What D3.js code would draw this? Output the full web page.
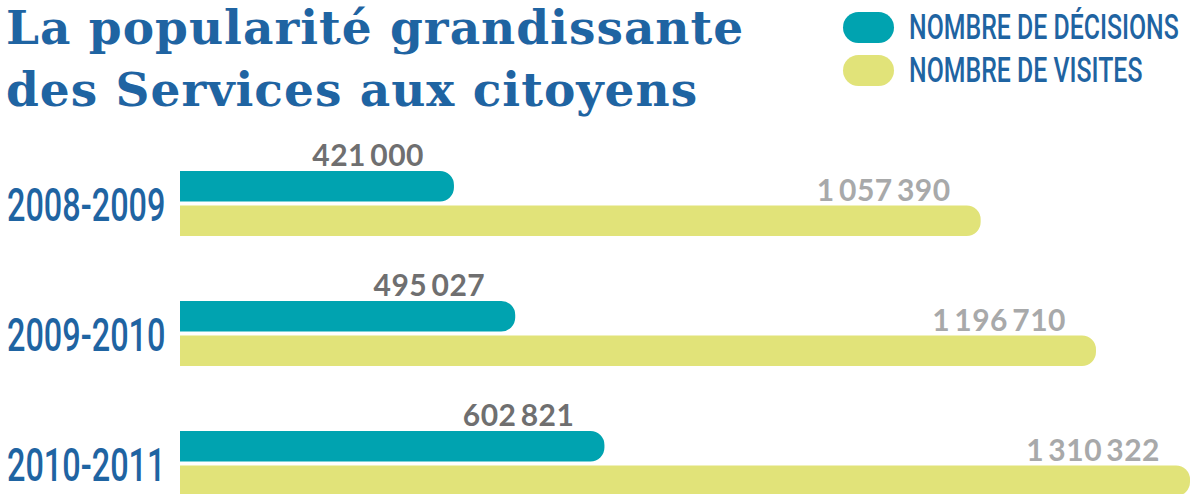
<!DOCTYPE html>
<html>
<head>
<meta charset="utf-8">
<script src="https://cdn.jsdelivr.net/npm/d3@7"></script>
<style>
  body { margin: 0; background: #fff; }
  svg { display: block; }
</style>
</head>
<body>
<script>
// data
let periods = ["2008-2009", "2009-2010", "2010-2011"];
let decisions = [421000, 495027, 602821];
let visites = [1057390, 1196710, 1310322];
let seriesNames = ["NOMBRE DE DÉCISIONS", "NOMBRE DE VISITES"];
let titleLines = ["La popularité grandissante", "des Services aux citoyens"];

let blue = "#1f64a2";
let colors = ["#00a3b0", "#e1e379"];
let labelColors = ["#6f6f70", "#a8a9aa"];

let W = 1193, H = 494;
let svg = d3.select("body").append("svg").attr("width", W).attr("height", H);

let fr = d3.formatLocale({decimal: ",", thousands: "\u2009", grouping: [3], currency: ["", " €"]});
let fmt = fr.format(",d");

// bars in the original are not strictly proportional; this linear fit follows them best
let x = d3.scaleLinear().domain([90000, 1310322]).range([180, 1190]);

let y = d3.scaleBand().domain(periods).range([171, 496]).paddingInner(0.5).paddingOuter(0);
let ySub = d3.scaleBand().domain([0, 1]).range([0, y.bandwidth()]).paddingInner(0.116);

let rows = periods.map((p, i) => ({period: p, vals: [decisions[i], visites[i]]}));

function barPath(x0, x1, y0, h) {
  let r = Math.min(14, h / 2);
  return `M${x0},${y0}H${x1 - r}A${r},${r} 0 0 1 ${x1},${y0 + r}V${y0 + h - r}A${r},${r} 0 0 1 ${x1 - r},${y0 + h}H${x0}Z`;
}

let g = svg.selectAll("g.row")
  .data(rows)
  .enter().append("g")
    .attr("class", "row")
    .attr("transform", d => `translate(0,${y(d.period)})`);

g.selectAll("path")
  .data(d => d.vals)
  .enter().append("path")
    .attr("d", (v, j) => barPath(x.range()[0], x(v), ySub(j), ySub.bandwidth()))
    .attr("fill", (v, j) => colors[j]);

g.selectAll("text.val")
  .data(d => d.vals)
  .enter().append("text")
    .attr("class", "val")
    .attr("x", v => x(v) - 30)
    .attr("y", (v, j) => ySub(j) - 5)
    .attr("text-anchor", "end")
    .attr("font-family", "Lato, 'Open Sans', sans-serif")
    .attr("font-weight", "bold")
    .attr("font-size", 30)
    .attr("letter-spacing", 0.5)
    .attr("fill", (v, j) => labelColors[j])
    .text(v => fmt(v));

// period labels, condensed look
g.append("text")
  .attr("transform", `translate(7,${y.bandwidth() / 2 + 17}) scale(0.69,1)`)
  .attr("font-family", "Roboto, sans-serif")
  .attr("font-weight", 500)
  .attr("font-size", 47)
  .attr("fill", blue)
  .text(d => d.period);

// title
svg.append("text")
  .attr("font-family", "'DejaVu Serif', serif")
  .attr("font-weight", "bold")
  .attr("font-size", 47)
  .attr("letter-spacing", 1)
  .attr("fill", blue)
  .selectAll("tspan")
  .data(titleLines)
  .enter().append("tspan")
    .attr("x", 6)
    .attr("y", (d, i) => 44 + i * 62)
    .text(d => d);

// legend
let leg = svg.selectAll("g.leg")
  .data(seriesNames)
  .enter().append("g")
    .attr("class", "leg")
    .attr("transform", (d, i) => `translate(843,${12 + i * 43})`);

leg.append("rect")
  .attr("width", 51)
  .attr("height", 31)
  .attr("rx", 15.5)
  .attr("fill", (d, i) => colors[i]);

leg.append("text")
  .attr("transform", "translate(66,27) scale(0.71,1)")
  .attr("font-family", "Roboto, sans-serif")
  .attr("font-weight", 500)
  .attr("font-size", 35)
  .attr("fill", blue)
  .text(d => d);
</script>
</body>
</html>
